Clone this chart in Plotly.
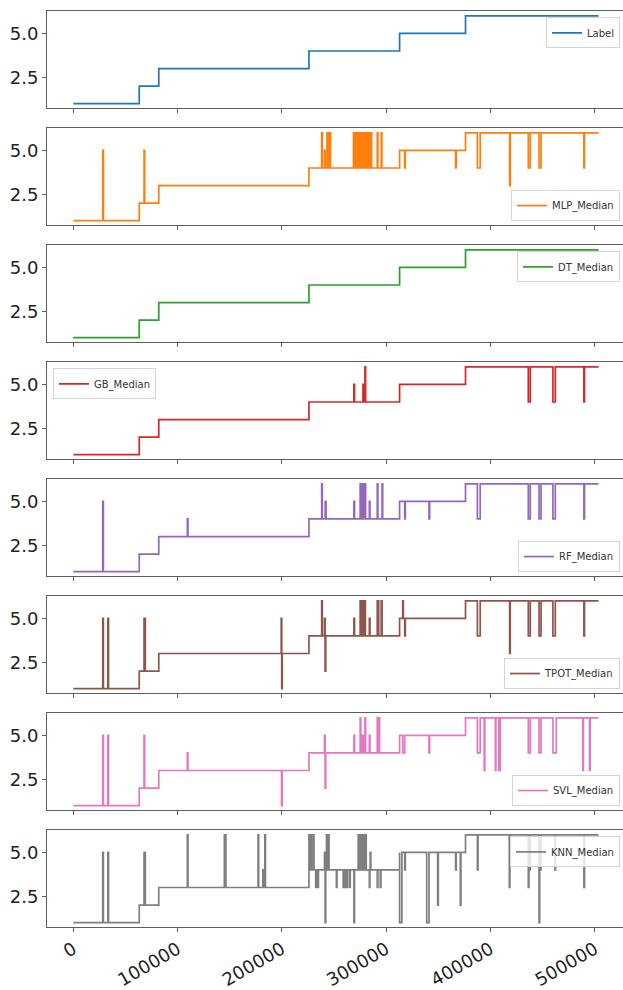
import plotly.graph_objects as go

# ---------------- data ----------------
SERIES_NAMES = ["Label", "MLP_Median", "DT_Median", "GB_Median",
                "RF_Median", "TPOT_Median", "SVL_Median", "KNN_Median"]
COLORS = ["#1f77b4", "#ff7f0e", "#2ca02c", "#d62728",
          "#9467bd", "#8c564b", "#e377c2", "#7f7f7f"]

# common staircase (Label): index where each level starts
LABEL_STEPS_X = [0, 63200, 81900, 225900, 312800, 376000, 503600]
LABEL_STEPS_Y = [1, 2, 3, 4, 5, 6, 6]

# deviations from the staircase: (start index, end index, value)
MLP_SPIKES = [
    (28200, 28800, 5), (67800, 68400, 5),
    (238100, 238700, 6), (240800, 241400, 5),
    (243200, 243800, 6), (244600, 245200, 6), (246000, 246600, 6),
    (268600, 269100, 6), (270000, 270500, 6), (271400, 271900, 6),
    (272800, 273300, 6), (274200, 274700, 6), (275600, 276100, 6),
    (277000, 277500, 6), (278400, 278900, 6), (279800, 280300, 6),
    (281200, 281700, 6), (282600, 283100, 6), (284000, 284500, 6),
    (285400, 286000, 6),
    (291400, 292000, 6), (295200, 295800, 6),
    (317700, 318300, 4), (366500, 367100, 4),
    (387400, 390100, 4), (418300, 418900, 3), (436200, 438100, 4),
    (446500, 448400, 4), (489500, 490100, 4),
]
DT_SPIKES = []
GB_SPIKES = [
    (269000, 269600, 5), (277700, 278300, 5), (279600, 280200, 6),
    (436200, 438100, 4), (459800, 462100, 4), (489500, 490100, 4),
]
RF_SPIKES = [
    (28200, 28800, 5), (109300, 109900, 4),
    (238100, 238700, 6), (241500, 242300, 5), (269000, 269600, 5),
    (275000, 275600, 6), (276600, 277200, 6), (278200, 278800, 6),
    (279600, 280200, 6), (283800, 284400, 5), (291400, 292000, 6),
    (296000, 296600, 6),
    (317700, 318300, 4), (341000, 341600, 4),
    (387400, 390100, 4), (436200, 438100, 4), (446500, 448400, 4),
    (459800, 462100, 4), (489500, 490100, 4),
]
TPOT_SPIKES = [
    (28200, 28800, 5), (33100, 33700, 5), (67800, 69000, 5),
    (199300, 199800, 5), (199800, 200300, 1),
    (238100, 238700, 6), (240800, 241400, 5), (241400, 242000, 2),
    (269000, 269600, 5), (275000, 276400, 6), (277700, 278300, 6),
    (279400, 280000, 6), (283800, 284400, 5), (291400, 292800, 6),
    (295200, 296000, 6),
    (315800, 316400, 6), (317700, 318300, 4),
    (387400, 390100, 4), (418300, 418900, 3), (436200, 438100, 4),
    (446500, 448400, 4), (459800, 462100, 4), (489500, 490100, 4),
]
SVL_SPIKES = [
    (28200, 28800, 5), (33100, 33700, 5), (67800, 68400, 5),
    (109300, 109900, 4), (199600, 200200, 1),
    (240800, 241400, 5), (241400, 242000, 2), (269000, 269600, 5),
    (275000, 275600, 6), (276600, 277200, 5), (277700, 278500, 5),
    (279600, 280200, 6), (283800, 284400, 5), (291400, 292000, 6),
    (293000, 293600, 6),
    (315800, 317700, 4), (341000, 341600, 4),
    (387400, 390100, 4), (393900, 394500, 3), (404600, 405200, 3),
    (408000, 409200, 3), (436200, 438100, 4), (446500, 448400, 4),
    (459800, 463000, 4), (488400, 489000, 3), (494900, 495500, 3),
]
KNN_SPIKES = [
    (28200, 28800, 5), (33100, 33700, 5), (67800, 69000, 5),
    (109300, 109900, 6), (144800, 146300, 6), (177100, 177700, 6),
    (181700, 182300, 4), (183600, 184200, 6),
    (225900, 226500, 6), (228000, 228500, 6), (230200, 230700, 6),
    (232400, 233000, 3), (234400, 235000, 3),
    (240800, 241400, 5), (241400, 242000, 1), (242700, 243300, 6),
    (244600, 245200, 6),
    (252200, 252800, 3), (258700, 259300, 3), (260500, 261000, 3),
    (262300, 262800, 3), (264800, 265500, 3),
    (269000, 269600, 1), (273100, 273700, 6), (275000, 275500, 6),
    (276800, 277300, 6), (278600, 279100, 6), (280300, 280800, 6),
    (283800, 284300, 3), (284600, 285200, 5),
    (291400, 292000, 3), (294300, 294900, 3),
    (312800, 315000, 1), (317700, 318300, 4), (338800, 341000, 1),
    (349300, 349900, 2), (366500, 367100, 4), (371000, 371600, 2),
    (387400, 388000, 4), (418000, 418600, 3), (436200, 436800, 3),
    (436800, 438100, 4), (446500, 447100, 1), (447100, 448400, 4),
    (461700, 462300, 4), (489500, 490100, 3),
]
ALL_SPIKES = [[], MLP_SPIKES, DT_SPIKES, GB_SPIKES,
              RF_SPIKES, TPOT_SPIKES, SVL_SPIKES, KNN_SPIKES]

X_TICKS = [0, 100000, 200000, 300000, 400000, 500000]
X_TICK_TEXT = ["0", "100000", "200000", "300000", "400000", "500000"]
Y_TICKS = [2.5, 5.0]
Y_TICK_TEXT = ["2.5", "5.0"]

# legend corner for each panel
LEGEND_POS = ["tr", "br", "tr", "tl", "br", "br", "br", "tr"]


def base_at(x):
    val = LABEL_STEPS_Y[0]
    for bx, by in zip(LABEL_STEPS_X, LABEL_STEPS_Y):
        if bx <= x:
            val = by
    return val


def build(spikes):
    pts = [(bx, 0, by) for bx, by in zip(LABEL_STEPS_X, LABEL_STEPS_Y)]
    for s, e, v in spikes:
        pts.append((s, 2, v))
        pts.append((e, 1, base_at(e)))
    pts.sort(key=lambda p: (p[0], p[1]))
    return [p[0] for p in pts], [p[2] for p in pts]


# ---------------- layout geometry ----------------
W, H = 623, 990
ML, MR, MT, MB = 47, 0, 11, 58
PW = W - ML - MR
PH = H - MT - MB
PANEL_H = 97
PANEL_STEP = 117.5
FONT = "DejaVu Sans"
SPINE = "#5e5e5e"

fig = go.Figure()
layout = dict(
    width=W, height=H,
    margin=dict(l=ML, r=MR, t=MT, b=MB, pad=0),
    paper_bgcolor="white", plot_bgcolor="white",
    font=dict(family=FONT, color="#222"),
    showlegend=True,
)

for i, name in enumerate(SERIES_NAMES):
    k = "" if i == 0 else str(i + 1)
    xs, ys = build(ALL_SPIKES[i])
    fig.add_trace(go.Scatter(
        x=xs, y=ys, mode="lines", name=name,
        line=dict(color=COLORS[i], width=1.7, shape="hv"),
        xaxis="x" + k, yaxis="y" + k, legend="legend" + k,
        hoverinfo="skip",
    ))
    top_px = 11.5 + PANEL_STEP * i
    bot_px = top_px + PANEL_H
    d0 = 1 - (bot_px - MT) / PH
    d1 = 1 - (top_px - MT) / PH
    layout["xaxis" + k] = dict(
        domain=[0, 1], anchor="y" + k, range=[-25250, 527000],
        showline=True, mirror=True, linecolor=SPINE, linewidth=1,
        ticks="outside", ticklen=4, tickcolor=SPINE, tickwidth=1,
        tickvals=X_TICKS, ticktext=X_TICK_TEXT,
        showticklabels=(i == len(SERIES_NAMES) - 1),
        tickangle=-30, tickfont=dict(size=18, family=FONT, color="#222"),
        showgrid=False, zeroline=False,
        matches=None if i == 0 else "x",
    )
    layout["yaxis" + k] = dict(
        domain=[d0, d1], anchor="x" + k, range=[0.75, 6.25],
        showline=True, mirror=False, linecolor=SPINE, linewidth=1,
        ticks="outside", ticklen=4, tickcolor=SPINE, tickwidth=1,
        tickvals=Y_TICKS, ticktext=Y_TICK_TEXT,
        tickfont=dict(size=18, family=FONT, color="#222"),
        showgrid=False, zeroline=False,
    )
    pos = LEGEND_POS[i]
    if pos[1] == "r":
        lx, xa = (620 - ML) / PW, "right"
    else:
        lx, xa = (53 - ML) / PW, "left"
    if pos[0] == "t":
        ly, ya = 1 - (top_px + 6 - MT) / PH, "top"
    else:
        ly, ya = 1 - (bot_px - 4 - MT) / PH, "bottom"
    layout["legend" + k] = dict(
        x=lx, y=ly, xanchor=xa, yanchor=ya,
        bgcolor="rgba(255,255,255,0.8)", bordercolor="#d4d4d4",
        borderwidth=1, font=dict(size=10, family=FONT, color="#333"),
        itemwidth=30, tracegroupgap=0,
    )

fig.update_layout(**layout)
fig.write_html(
    "out.html",
    config={"displayModeBar": False},
    post_script="document.body.style.margin='0';document.body.style.overflow='hidden';",
)
